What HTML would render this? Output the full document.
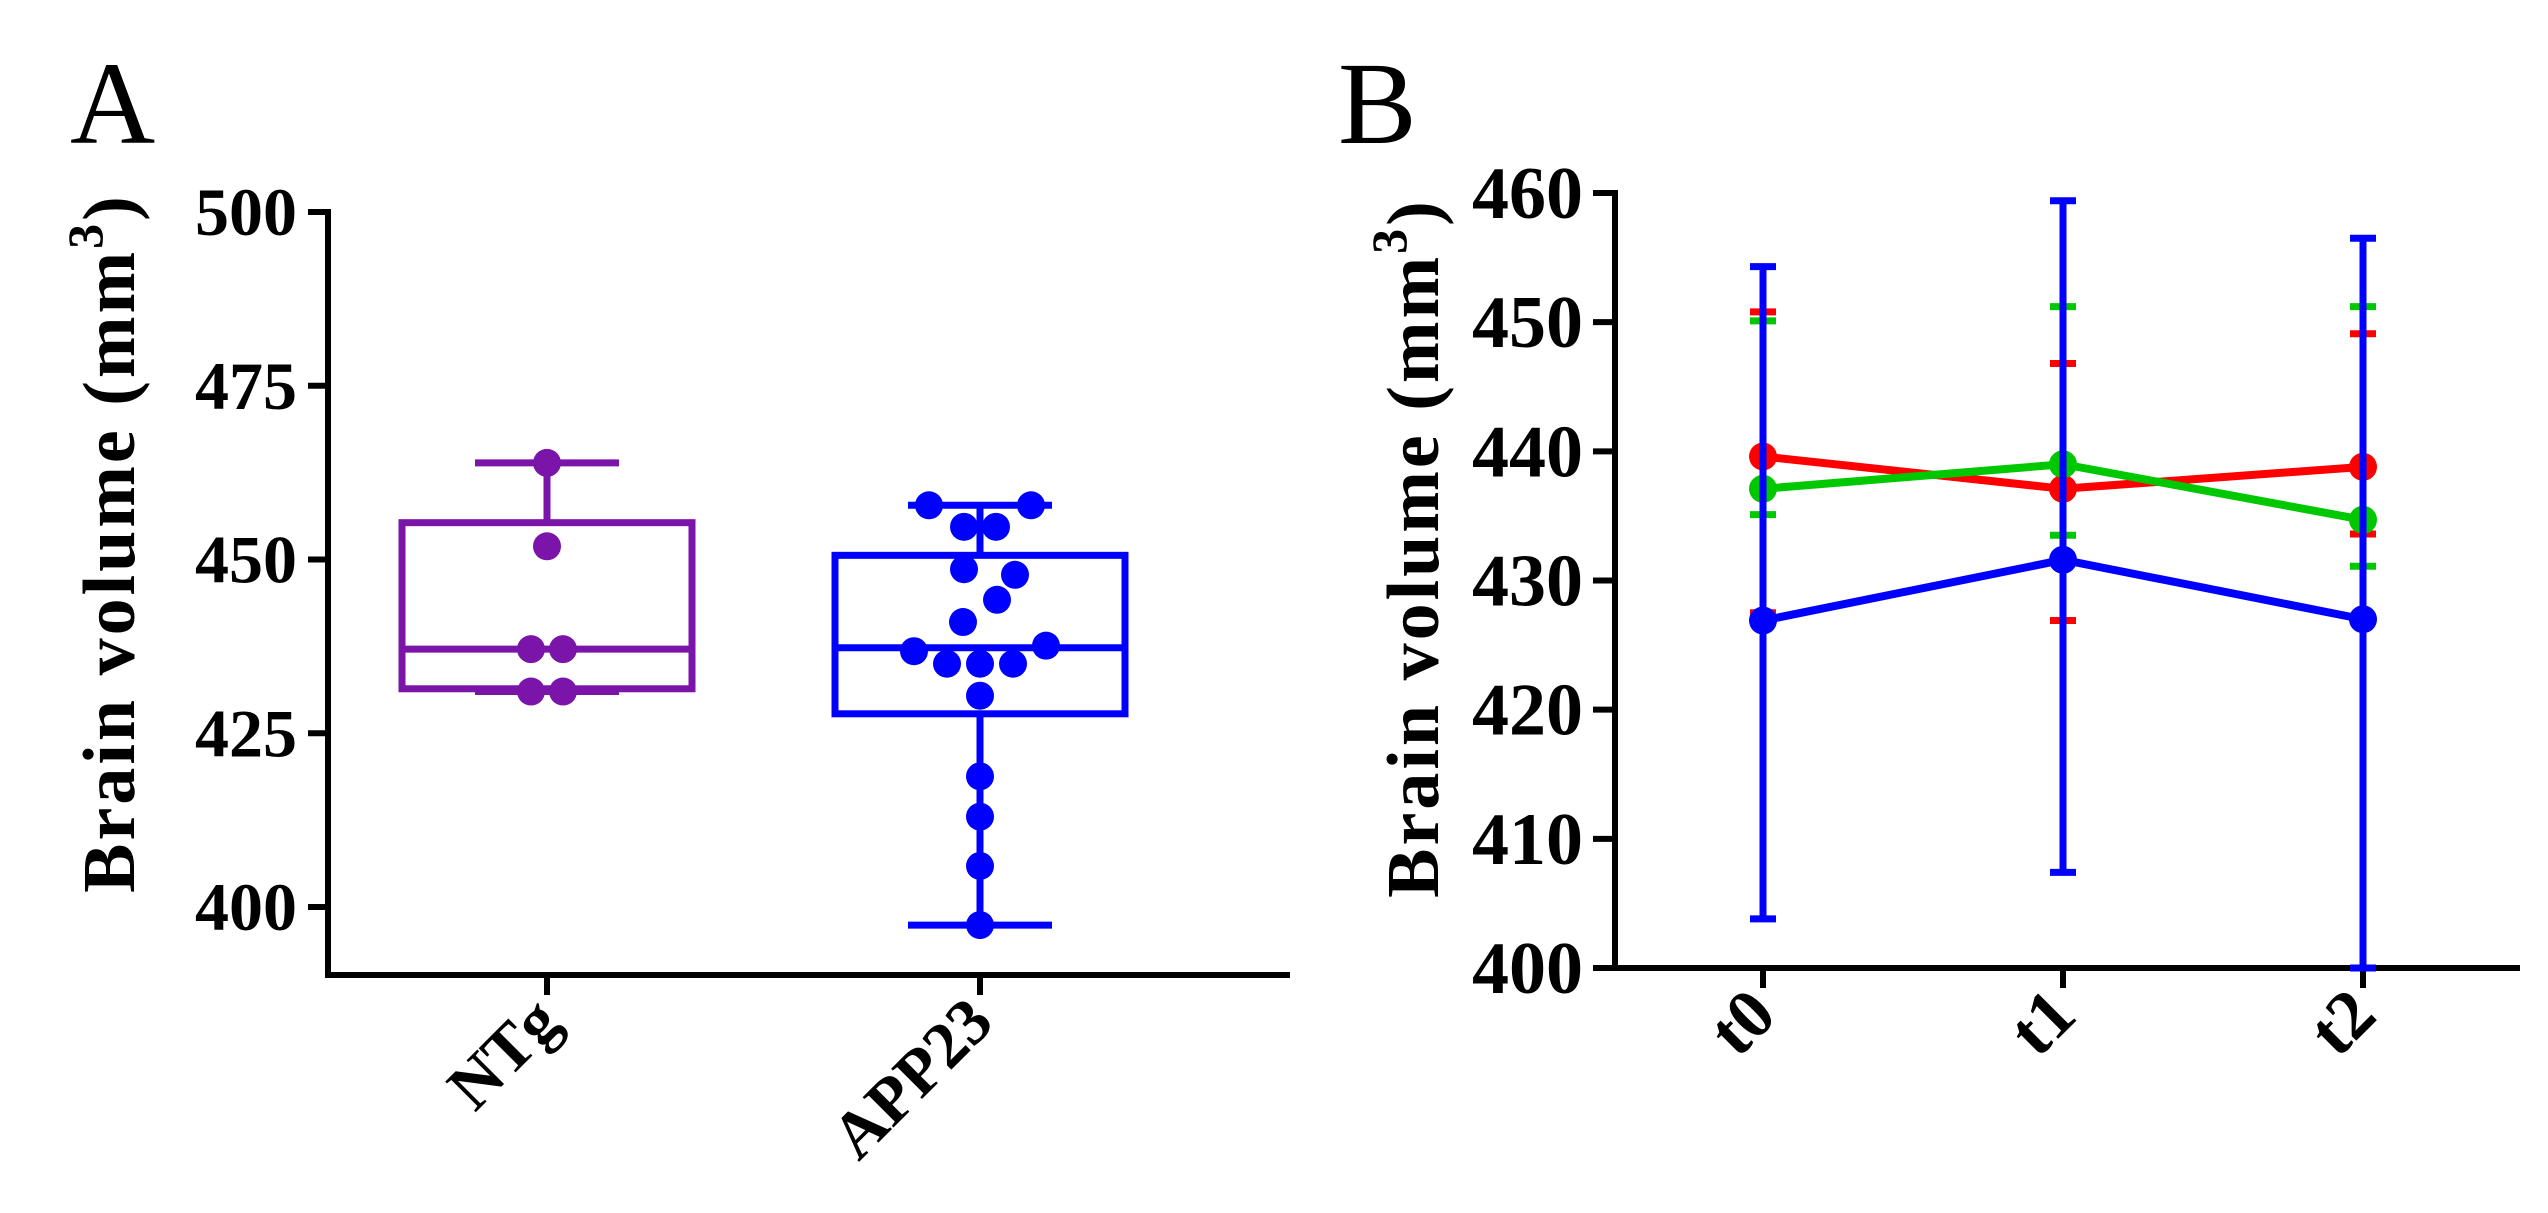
<!DOCTYPE html>
<html><head><meta charset="utf-8"><style>
html,body{margin:0;padding:0;background:#fff;}
svg{display:block;font-family:"Liberation Serif",serif;}
</style></head><body>
<svg id="fig" width="2548" height="1213" viewBox="0 0 2548 1213" xmlns="http://www.w3.org/2000/svg">
<text x="70" y="143" font-size="118">A</text>
<text x="1338" y="143" font-size="118">B</text>
<g id="pa"></g>
<g id="pb"></g>
</svg>
<script>
// ---------- Panel A data ----------
const aCategories = ["NTg", "APP23"];
const aTicks = [400, 425, 450, 475, 500];
const aWhiskerHi = [463.9, 457.8];
const aBoxHi = [455.3, 450.6];
const aMedian = [437.1, 437.3];
const aBoxLo = [431.4, 427.8];
const aWhiskerLo = [431.0, 397.4];
const aNTgPoints = [463.9, 451.9, 437.1, 437.1, 431.0, 431.0];
const aNTgJitter = [0, 0, -16, 16, -16, 16];
const aAppPoints = [457.8, 457.8, 454.7, 454.7, 448.6, 447.8, 444.2, 441.0, 436.8, 437.6, 435.0, 435.0, 435.0, 430.4, 418.8, 413.0, 405.9, 397.4];
const aAppJitter = [-51, 51, -16, 16, -16, 35, 17, -17, -66, 66, -33, 0, 33, 0, 0, 0, 0, 0];
const aColors = ["#7b14a8", "#0000ff"];

// ---------- Panel B data ----------
const bCategories = ["t0", "t1", "t2"];
const bTicks = [400, 410, 420, 430, 440, 450, 460];
const redMean = [439.6, 437.1, 438.8];
const redHi = [450.8, 446.8, 449.1];
const redLo = [427.5, 426.9, 433.6];
const greenMean = [437.1, 439.0, 434.7];
const greenHi = [450.1, 451.2, 451.2];
const greenLo = [435.1, 433.5, 431.1];
const blueMean = [426.9, 431.6, 427.0];
const blueHi = [454.3, 459.4, 456.5];
const blueLo = [403.8, 407.4, 400.0];

const NS = "http://www.w3.org/2000/svg";
function mk(parent, tag, attrs) {
  const e = document.createElementNS(NS, tag);
  for (const k in attrs) e.setAttribute(k, attrs[k]);
  parent.appendChild(e);
  return e;
}

// ---------- Panel A ----------
(function () {
  const g = document.getElementById("pa");
  const x0 = 328, xEnd = 1290, yBase = 975;
  const yA = v => 907 - (v - 400) * (907 - 212) / 100;
  const xA = i => 547 + i * 433;
  let e = mk(g, "line", {x1: x0, y1: 209, x2: x0, y2: yBase + 3, stroke: "#000", "stroke-width": 6});
  
  
  e = mk(g, "line", {x1: x0 - 3, y1: yBase, x2: xEnd, y2: yBase, stroke: "#000", "stroke-width": 6});
  
  
  aTicks.forEach(t => {
    const y = yA(t);
    let l = mk(g, "line", {x1: x0 - 20, y1: y, x2: x0, y2: y, stroke: "#000", "stroke-width": 6});
    
    
    let tx = mk(g, "text", {x: 297, y: y + 23, "font-size": 68, "font-weight": "bold", "text-anchor": "end"});
    tx.textContent = t;
    
    
  });
  let yl = mk(g, "text", {transform: "translate(134,543) rotate(-90)", "font-size": 74, "font-weight": "bold", "text-anchor": "middle", "letter-spacing": "3"});
  yl.innerHTML = 'Brain volume (mm<tspan dy="-32" font-size="50">3</tspan><tspan dy="32">)</tspan>';
  
  

  aCategories.forEach((c, i) => {
    const cx = xA(i), col = aColors[i];
    let t = mk(g, "line", {x1: cx, y1: yBase, x2: cx, y2: yBase + 20, stroke: "#000", "stroke-width": 6});
    
    
    let lb = mk(g, "text", {transform: `translate(${cx + 16},${yBase + 50}) rotate(-45)`, "font-size": 66, "font-weight": "bold", "text-anchor": "end"});
    lb.textContent = c;
    
    
    const bg = mk(g, "g", {stroke: col, "stroke-width": 7, fill: "none"});
    
    
    mk(bg, "line", {x1: cx, y1: yA(aWhiskerHi[i]), x2: cx, y2: yA(aBoxHi[i])});
    mk(bg, "line", {x1: cx, y1: yA(aBoxLo[i]), x2: cx, y2: yA(aWhiskerLo[i])});
    mk(bg, "line", {x1: cx - 72, y1: yA(aWhiskerHi[i]), x2: cx + 72, y2: yA(aWhiskerHi[i])});
    mk(bg, "line", {x1: cx - 72, y1: yA(aWhiskerLo[i]), x2: cx + 72, y2: yA(aWhiskerLo[i])});
    mk(bg, "rect", {x: cx - 145, y: yA(aBoxHi[i]), width: 290, height: yA(aBoxLo[i]) - yA(aBoxHi[i])});
    mk(bg, "line", {x1: cx - 145, y1: yA(aMedian[i]), x2: cx + 145, y2: yA(aMedian[i])});
    const pts = i === 0 ? aNTgPoints : aAppPoints;
    const jit = i === 0 ? aNTgJitter : aAppJitter;
    pts.forEach((v, k) => {
      const d = mk(g, "circle", {cx: cx + jit[k], cy: yA(v), r: 14, fill: col});
      
      
    });
  });
})();

// ---------- Panel B ----------
(function () {
  const g = document.getElementById("pb");
  const x0 = 1615, xEnd = 2520, yBase = 968;
  const yB = v => 968 - (v - 400) * (968 - 193) / 60;
  const xB = i => 1763 + i * 300;
  let e = mk(g, "line", {x1: x0, y1: 190, x2: x0, y2: yBase + 3, stroke: "#000", "stroke-width": 6});
  
  
  e = mk(g, "line", {x1: x0 - 22, y1: yBase, x2: xEnd, y2: yBase, stroke: "#000", "stroke-width": 6});
  
  
  bTicks.forEach(t => {
    const y = yB(t);
    let l = mk(g, "line", {x1: x0 - 22, y1: y, x2: x0, y2: y, stroke: "#000", "stroke-width": 6});
    
    
    let tx = mk(g, "text", {x: 1583, y: y + 25, "font-size": 74, "font-weight": "bold", "text-anchor": "end"});
    tx.textContent = t;
    
    
  });
  let yl = mk(g, "text", {transform: "translate(1438,548) rotate(-90)", "font-size": 74, "font-weight": "bold", "text-anchor": "middle", "letter-spacing": "3"});
  yl.innerHTML = 'Brain volume (mm<tspan dy="-32" font-size="50">3</tspan><tspan dy="32">)</tspan>';
  
  
  bCategories.forEach((c, i) => {
    const cx = xB(i);
    let t = mk(g, "line", {x1: cx, y1: yBase, x2: cx, y2: yBase + 20, stroke: "#000", "stroke-width": 6});
    
    
    let lb = mk(g, "text", {transform: `translate(${cx + 16},${yBase + 50}) rotate(-45)`, "font-size": 70, "font-weight": "bold", "text-anchor": "end"});
    lb.textContent = c;
    
    
  });
  const series = [
    {name: "red", col: "#ff0000", m: redMean, hi: redHi, lo: redLo},
    {name: "green", col: "#00c800", m: greenMean, hi: greenHi, lo: greenLo},
    {name: "blue", col: "#0000ff", m: blueMean, hi: blueHi, lo: blueLo}
  ];
  series.forEach(s => {
    const sg = mk(g, "g", {stroke: s.col, "stroke-width": 7, fill: s.col});
    
    
    s.m.forEach((v, i) => {
      const cx = xB(i);
      const eb = mk(sg, "path", {d: `M${cx},${yB(s.hi[i])}V${yB(s.lo[i])}M${cx - 13},${yB(s.hi[i])}H${cx + 13}M${cx - 13},${yB(s.lo[i])}H${cx + 13}`, fill: "none"});
      
      
    });
    const line = mk(sg, "polyline", {points: s.m.map((v, i) => xB(i) + "," + yB(v)).join(" "), fill: "none", "stroke-width": 8});
    
    
    s.m.forEach((v, i) => {
      const p = mk(sg, "circle", {cx: xB(i), cy: yB(v), r: 14, stroke: "none"});
      
      
    });
  });
})();
</script>
</body></html>
